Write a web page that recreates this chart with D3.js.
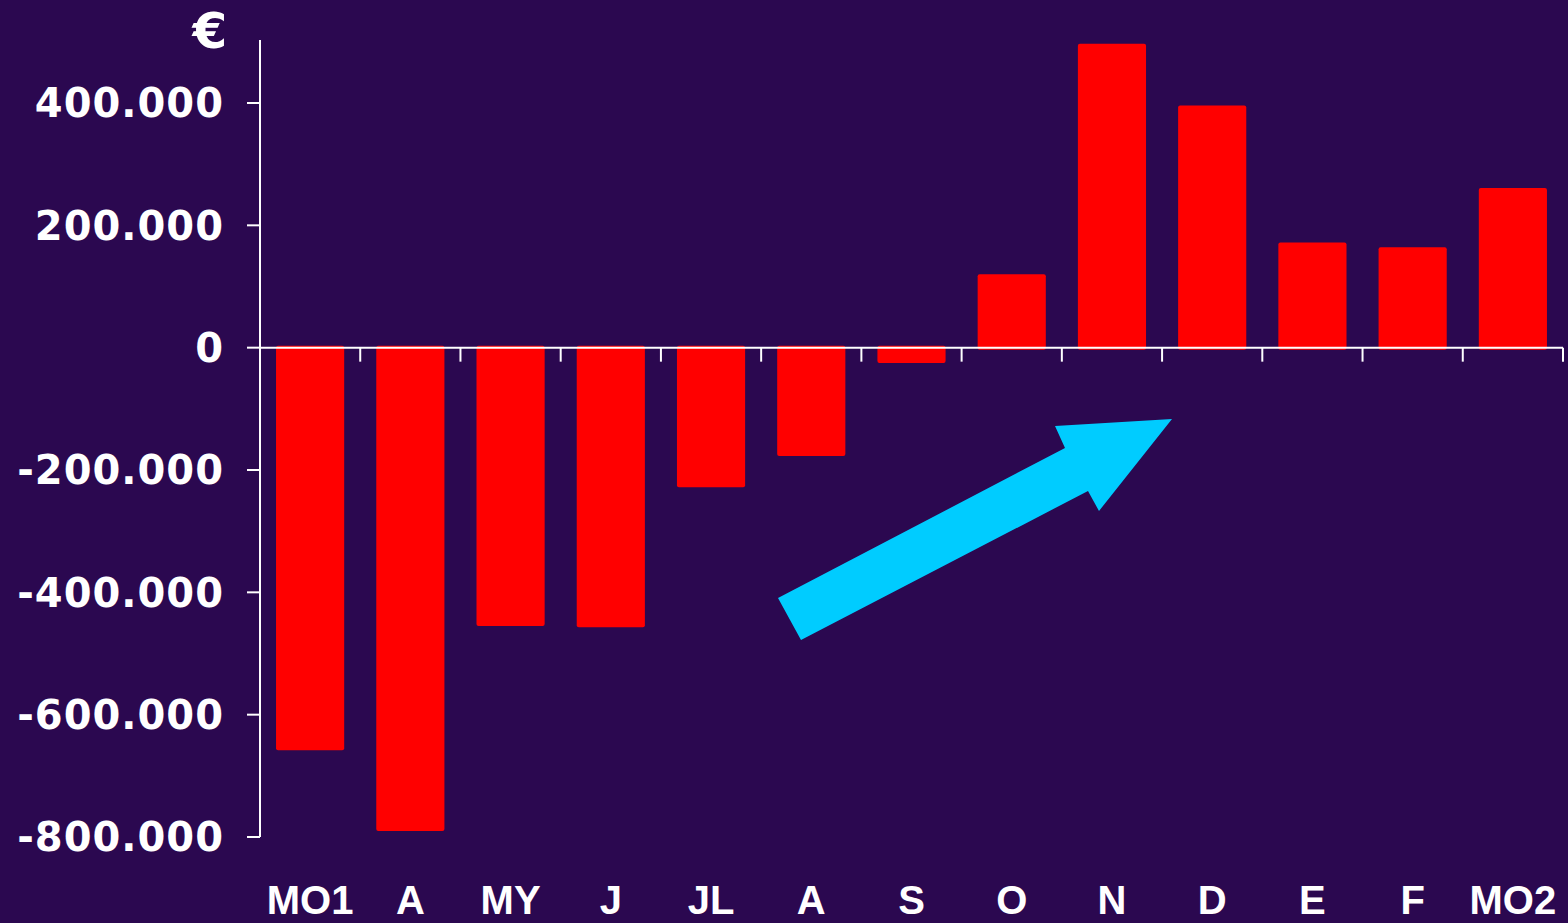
<!DOCTYPE html>
<html>
<head>
<meta charset="utf-8">
<script src="https://cdn.jsdelivr.net/npm/d3@7"></script>
<style>
  html, body { margin: 0; padding: 0; background: #2B0850; }
  svg { display: block; }
</style>
</head>
<body>
<svg id="chart" width="1568" height="923"></svg>
<script>
// ---- data ----
const categories = ["MO1", "A", "MY", "J", "JL", "A", "S", "O", "N", "D", "E", "F", "MO2"];
const values = [-658000, -790000, -455000, -457000, -228000, -177000, -25000, 120000, 497000, 396000, 172000, 164000, 261000];
const yTicks = [-800000, -600000, -400000, -200000, 0, 200000, 400000];
const unitLabel = "€";

const W = 1568, H = 923;
const svg = d3.select("#chart");
svg.append("rect").attr("width", W).attr("height", H).attr("fill", "#2B0850");

const idx = categories.map((_, i) => i);
const x = d3.scaleBand().domain(idx).range([260, 1563]).paddingInner(0.32).paddingOuter(0.16);
const y = d3.scaleLinear().domain([-800000, 400000]).range([837, 103]);
const y0 = y(0);

const fmt = v => (v < 0 ? "-" : "") + d3.format(",")(Math.abs(v)).replace(/,/g, ".");

// bars
svg.append("g").selectAll("rect").data(values).join("rect")
  .attr("x", (d, i) => x(i))
  .attr("width", x.bandwidth())
  .attr("y", d => d >= 0 ? y(d) : y0 - 2)
  .attr("height", d => Math.abs(y(d) - y0) + 2)
  .attr("rx", 2)
  .attr("fill", "#FF0000");

// y axis line
const axisTop = y(503000);
svg.append("line")
  .attr("x1", 260).attr("x2", 260)
  .attr("y1", axisTop).attr("y2", y(-800000))
  .attr("stroke", "#ffffff").attr("stroke-width", 2);

// y ticks + labels
const ls = 1.0;
const yt = svg.append("g");
yt.selectAll("line").data(yTicks).join("line")
  .attr("x1", 247).attr("x2", 260)
  .attr("y1", d => y(d)).attr("y2", d => y(d))
  .attr("stroke", "#ffffff").attr("stroke-width", 2);
yt.selectAll("text").data(yTicks).join("text")
  .attr("x", 223 + ls).attr("y", d => y(d))
  .attr("dy", "0.36em")
  .attr("text-anchor", "end")
  .attr("fill", "#ffffff")
  .attr("font-family", "DejaVu Sans, sans-serif")
  .attr("font-weight", "bold")
  .attr("font-size", 40)
  .attr("letter-spacing", ls)
  .text(d => fmt(d));

// euro unit label
svg.append("text")
  .attr("x", 210).attr("y", 48)
  .attr("text-anchor", "middle")
  .attr("fill", "#ffffff")
  .attr("font-family", "DejaVu Sans, sans-serif")
  .attr("font-weight", "bold")
  .attr("font-size", 50)
  .text(unitLabel);

// x axis line at zero
svg.append("line")
  .attr("x1", 260).attr("x2", x.range()[1])
  .attr("y1", y0).attr("y2", y0)
  .attr("stroke", "#ffffff").attr("stroke-width", 2);

// x ticks at band boundaries
const bounds = d3.range(1, categories.length + 1).map(i => x.range()[0] + i * x.step());
svg.append("g").selectAll("line").data(bounds).join("line")
  .attr("x1", d => d).attr("x2", d => d)
  .attr("y1", y0).attr("y2", y0 + 14)
  .attr("stroke", "#ffffff").attr("stroke-width", 2);

// x labels
svg.append("g").selectAll("text").data(categories).join("text")
  .attr("x", (d, i) => x(i) + x.bandwidth() / 2)
  .attr("y", 914)
  .attr("text-anchor", "middle")
  .attr("fill", "#ffffff")
  .attr("font-family", "Liberation Sans, Arial, sans-serif")
  .attr("font-weight", "bold")
  .attr("font-size", 40)
  .text(d => d);

// trend arrow annotation
const arrowPts = [[778, 598], [1065, 448], [1055, 426], [1172, 419], [1099, 511], [1088, 491], [801, 640]];
svg.append("polygon")
  .attr("points", arrowPts.map(p => p.join(",")).join(" "))
  .attr("fill", "#00CCFF");
</script>
</body>
</html>
